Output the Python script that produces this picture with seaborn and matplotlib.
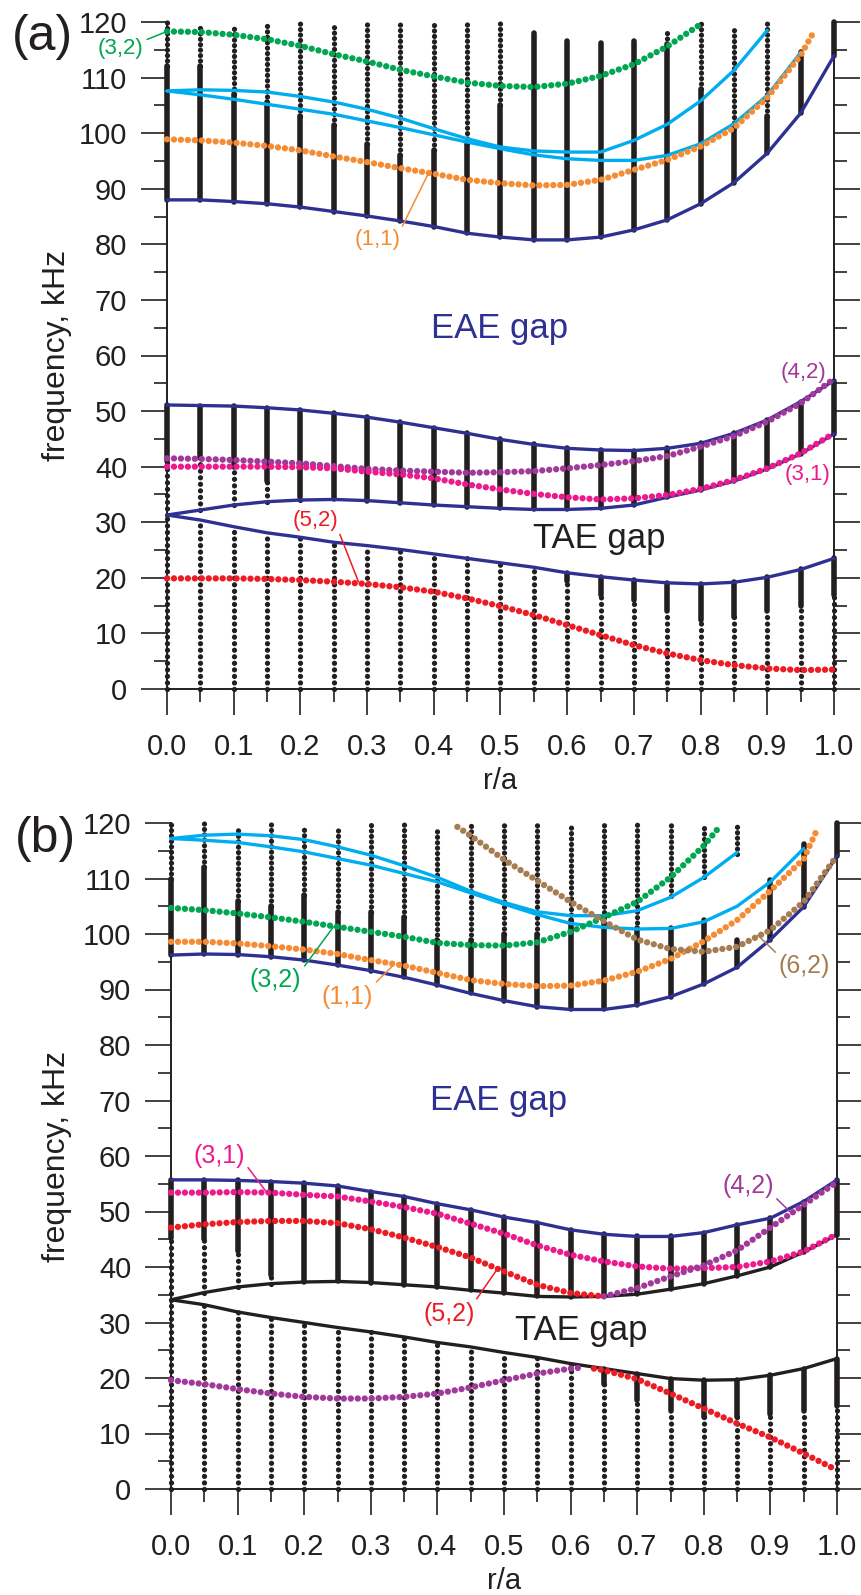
import numpy as np
import pandas as pd
import matplotlib
matplotlib.use("Agg")
import matplotlib.pyplot as plt
import seaborn as sns
from matplotlib.ticker import MultipleLocator, FormatStrFormatter

sns.set_style("ticks")
plt.rcParams["font.family"] = ["Liberation Sans", "DejaVu Sans"]
plt.rcParams["lines.scale_dashes"] = False

NAN = np.nan
# radial grid (r/a) of the continuum columns
R = [0.00, 0.05, 0.10, 0.15, 0.20, 0.25, 0.30, 0.35, 0.40, 0.45, 0.50,
     0.55, 0.60, 0.65, 0.70, 0.75, 0.80, 0.85, 0.90, 0.95, 1.00]
X_TICKS = [0.0, 0.1, 0.2, 0.3, 0.4, 0.5, 0.6, 0.7, 0.8, 0.9, 1.0]
Y_TICKS = [0, 10, 20, 30, 40, 50, 60, 70, 80, 90, 100, 110, 120]

# ---------------- panel (a) ----------------
A_TAE_LO = [31.3, 30.4, 29.2, 28.1, 27.3, 26.4, 25.8, 25.1, 24.3, 23.5, 22.7,
            21.9, 20.9, 20.2, 19.6, 19.1, 18.9, 19.2, 20.1, 21.5, 23.5]
A_TAE_HI = [31.3, 32.2, 33.1, 33.7, 34.0, 34.1, 33.9, 33.5, 33.1, 32.8, 32.5,
            32.3, 32.3, 32.5, 33.1, 34.5, 35.8, 37.4, 39.6, 42.3, 45.9]
A_EAE_LO = [51.1, 51.0, 50.9, 50.6, 50.2, 49.6, 48.9, 48.0, 47.0, 46.0, 44.9,
            44.0, 43.3, 43.0, 42.9, 43.3, 44.2, 46.0, 48.4, 51.7, 55.5]
A_EAE_HI = [88.0, 88.0, 87.7, 87.3, 86.7, 85.9, 85.1, 84.2, 83.2, 82.0, 81.3,
            80.8, 80.8, 81.3, 82.6, 84.4, 87.3, 91.1, 96.4, 103.6, 113.9]
A_LB1 = [107.6, 107.8, 107.7, 107.4, 106.6, 105.6, 104.3, 102.7, 100.8, 99.0,
         97.5, 96.8, 96.6, 96.6, 98.7, 101.6, 105.8, 111.3, 118.5]
A_LB2 = [107.6, 106.9, 106.1, 105.2, 104.3, 103.4, 102.2, 101.0, 99.7, 98.4,
         97.2, 96.1, 95.4, 95.1, 95.1, 96.0, 98.1, 101.7, 106.8, 114.5]
A_TOP = [120, 119.9, 119.4, 120, 120, 120, 120, 119.7, 120, 119.7, 120,
         118.0, 116.6, 116.2, 116.6, 118.7, 119.8, 119.5, 119.8, 114.6, 120]
A_UP_SOLID = [112, 112, 107, 105.6, 103, 101.5, 98, 96, 97, 98, 105,
              118, 116.6, 116.2, 116.6, 116, 108, 101, 103, 114.6, 120]
A_MID_DOT = [41.0, 41.5, 40.0, 37.5, 34.5] + [NAN] * 16
A_LOW_SOLID = [NAN] * 12 + [19.5, 17, 16, 14, 12.5, 13, 14, 15, 17]

A_GREEN_R = R[:17]
A_GREEN = [118.3, 118.2, 117.7, 116.9, 115.7, 114.2, 112.9, 111.4, 110.2, 109.1,
           108.5, 108.3, 108.9, 110.3, 112.4, 115.6, 119.6]
A_ORANGE_R = R[:20] + [0.97]
A_ORANGE = [98.9, 98.7, 98.3, 97.7, 96.9, 95.8, 94.8, 93.7, 92.7, 91.6, 91.0,
            90.6, 90.7, 91.6, 93.4, 95.2, 97.6, 100.9, 106.4, 114.0, 118.3]
A_PURPLE = [41.5, 41.4, 41.2, 40.9, 40.6, 40.1, 39.6, 39.3, 39.1, 38.9, 39.0,
            39.2, 39.7, 40.3, 41.0, 41.9, 43.6, 45.5, 48.1, 51.4, 55.8]
A_PINK = [40.0, 40.0, 40.0, 40.0, 39.9, 39.7, 39.1, 38.6, 37.9, 36.8, 35.9,
          35.1, 34.5, 34.1, 34.3, 34.9, 36.0, 37.6, 39.7, 42.4, 46.0]
A_RED = [19.9, 19.9, 19.9, 19.8, 19.6, 19.3, 18.9, 18.3, 17.5, 16.3, 14.9,
         13.3, 11.5, 9.7, 7.9, 6.4, 5.2, 4.3, 3.7, 3.4, 3.5]

# ---------------- panel (b) ----------------
B_TAE_LO = [34.1, 33.2, 31.9, 30.9, 30.0, 29.1, 28.3, 27.4, 26.4, 25.6, 24.6,
            23.7, 22.6, 21.7, 20.8, 19.9, 19.6, 19.7, 20.5, 21.7, 23.5]
B_TAE_HI = [34.1, 35.4, 36.4, 37.0, 37.3, 37.4, 37.2, 36.8, 36.4, 35.8, 35.3,
            34.7, 34.6, 34.7, 35.1, 36.0, 37.0, 38.4, 40.0, 42.7, 45.8]
B_EAE_LO = [55.7, 55.7, 55.6, 55.4, 55.1, 54.6, 53.6, 52.7, 51.4, 50.3, 49.0,
            48.0, 46.7, 45.9, 45.5, 45.5, 46.2, 47.6, 48.8, 51.8, 55.7]
B_EAE_HI = [96.2, 96.4, 96.3, 95.9, 95.3, 94.4, 93.4, 92.2, 90.8, 89.3, 88.0,
            86.9, 86.4, 86.4, 87.2, 88.7, 91.0, 94.0, 99.0, 104.9, 114.1]
B_LB1 = [117.2, 117.8, 118.0, 117.7, 117.0, 115.7, 114.2, 112.3, 110.2, 107.7,
         105.7, 104.0, 103.3, 103.3, 104.2, 106.6, 110.2, 114.7]
B_LB2 = [117.2, 116.9, 116.5, 115.7, 114.8, 113.6, 112.4, 110.9, 109.4, 107.4,
         105.4, 103.5, 101.9, 101.2, 100.9, 101.0, 102.2, 105.0, 109.4, 115.4]
B_TOP = [120, 120, 119.6, 120, 119.4, 119.4, 120, 119.8, 119.3, 120, 119.7,
         120, 120, 120, 120, 120, 120, 119.4, 109.7, 116.3, 120]
B_UP_SOLID = [110, 112, 106, 105, 107, 104, 104, 103, 99, 99, 100,
              100, 102.5, 102, 101, 101.1, 102.5, 99.0, 109.7, 116.3, 120]
B_GAP_LO = [NAN] * 15 + [101.1, 102.5, 99.0, NAN, NAN, NAN]
B_GAP_HI = [NAN] * 15 + [106.9, 110.3, 114.5, NAN, NAN, NAN]
B_MID_DOT = [45.3, 45.0, 42.8, 38.5] + [NAN] * 17
B_LOW_SOLID = [NAN] * 13 + [19, 16, 14, 13, 13, 13.5, 14, 15]

B_GREEN_R = R[:17] + [0.82]
B_GREEN = [104.7, 104.3, 103.7, 103.0, 102.2, 101.3, 100.4, 99.5, 98.4, 98.0,
           97.9, 98.5, 100.4, 103.0, 105.8, 110.2, 115.9, 118.8]
B_ORANGE_R = R[:20] + [0.97]
B_ORANGE = [98.6, 98.6, 98.3, 97.8, 97.2, 96.4, 95.3, 94.3, 93.0, 91.7, 91.0,
            90.6, 90.7, 91.6, 93.2, 95.5, 98.7, 102.5, 107.8, 113.5, 118.8]
B_BROWN_R = [0.43, 0.45, 0.50, 0.55, 0.60, 0.65, 0.70, 0.75, 0.80, 0.85, 0.90, 0.95, 1.00]
B_BROWN = [119.3, 117.7, 113.4, 109.6, 105.8, 102.3, 99.0, 97.3, 96.8, 97.7, 100.7, 105.8, 114.1]
B_PINK = [53.4, 53.4, 53.5, 53.4, 53.0, 52.7, 51.8, 50.8, 49.6, 47.8, 46.0,
          43.9, 42.2, 41.0, 40.1, 39.7, 39.8, 40.0, 41.0, 42.8, 45.9]
B_RED_UP_R = R[:14]
B_RED_UP = [47.1, 47.7, 48.1, 48.3, 48.3, 47.9, 46.8, 45.3, 43.6, 41.7, 39.2, 36.8, 35.3, 34.7]
B_PURPLE_UP_R = R[13:]
B_PURPLE_UP = [34.7, 36.2, 38.3, 40.3, 43.0, 47.1, 51.2, 55.3]
B_PURPLE_LO_R = R[:13] + [0.62]
B_PURPLE_LO = [19.6, 18.9, 18.0, 17.2, 16.6, 16.3, 16.3, 16.6, 17.2, 18.3, 19.6, 20.8, 21.7, 21.9]
B_RED_LO_R = [0.635] + R[13:]
B_RED_LO = [21.7, 21.4, 19.8, 17.2, 14.5, 11.8, 9.3, 6.4, 3.4]

# ---------------- styles ----------------
BLACK = "#231f20"
DBLUE = "#2e3192"
LBLUE = "#00aeef"
GREEN = "#00a651"
ORANGE = "#f58c33"
PURPLE = "#a1399b"
PINK = "#ec1b8d"
RED = "#ed1c24"
BROWN = "#a67c52"

DOT_CURVE = dict(lw=4.6, linestyle=(0, (0.01, 5.0)), dash_capstyle="round")


def vseg(ax, x, lo, hi, kind):
    if hi - lo <= 0.05:
        return
    if kind == "solid":
        ax.plot([x, x], [lo, hi], color=BLACK, lw=4.0, solid_capstyle="round",
                clip_on=False, zorder=3)
    else:
        gap = 4.7 if kind == "sparse" else 3.9
        ax.plot([x, x], [lo, hi], color=BLACK, lw=3.8, linestyle=(0, (0.01, gap)),
                dash_capstyle="round", clip_on=False, zorder=3)


def draw_columns(ax, top, up_solid, eae_hi, eae_lo, tae_hi, tae_lo, mid_dot,
                 low_solid, gap_lo=None, gap_hi=None):
    for i, x in enumerate(R):
        segs = []
        ls = low_solid[i]
        if np.isnan(ls):
            segs.append((0.0, tae_lo[i], "sparse"))
        else:
            segs.append((0.0, ls, "sparse"))
            segs.append((ls, tae_lo[i], "solid"))
        md = mid_dot[i]
        if np.isnan(md):
            segs.append((tae_hi[i], eae_lo[i], "solid"))
        else:
            segs.append((tae_hi[i], md, "sparse"))
            segs.append((md, eae_lo[i], "solid"))
        us = min(up_solid[i], top[i])
        segs.append((eae_hi[i], us, "solid"))
        segs.append((us, top[i], "dense"))
        glo = gap_lo[i] if gap_lo is not None else NAN
        ghi = gap_hi[i] if gap_hi is not None else NAN
        for lo, hi, kind in segs:
            if not np.isnan(glo):
                if hi <= glo or lo >= ghi:
                    vseg(ax, x, lo, hi, kind)
                else:
                    vseg(ax, x, lo, min(hi, glo), kind)
                    vseg(ax, x, max(lo, ghi), hi, kind)
            else:
                vseg(ax, x, lo, hi, kind)


def line(ax, xs, ys, color, lw=2.4, z=4):
    df = pd.DataFrame({"r": xs, "f": ys})
    sns.lineplot(data=df, x="r", y="f", ax=ax, color=color, lw=lw, sort=False,
                 estimator=None, legend=False, clip_on=False, zorder=z)


def dotted(ax, xs, ys, color):
    df = pd.DataFrame({"r": xs, "f": ys})
    sns.lineplot(data=df, x="r", y="f", ax=ax, color=color, sort=False,
                 estimator=None, legend=False, clip_on=False, zorder=5, **DOT_CURVE)


def label(ax, txt, color, xytext, xy=None, relpos=(1, 1), fs=16):
    if xy is None:
        ax.text(xytext[0], xytext[1], txt, color=color, fontsize=fs,
                ha="center", va="center", zorder=6)
    else:
        ax.annotate(txt, xy=xy, xytext=xytext, color=color, fontsize=fs,
                    ha="center", va="center", annotation_clip=False, zorder=6,
                    arrowprops=dict(arrowstyle="-", color=color, lw=1.1,
                                    shrinkA=0, shrinkB=0, relpos=relpos))


def style_axes(ax, ylab_x):
    ax.set_xlim(0, 1)
    ax.set_ylim(0, 120)
    ax.spines["top"].set_visible(False)
    for s in ("left", "right", "bottom"):
        ax.spines[s].set_linewidth(1.4)
        ax.spines[s].set_color(BLACK)
    ax.xaxis.set_minor_locator(MultipleLocator(0.05))
    ax.yaxis.set_minor_locator(MultipleLocator(5))
    ax.set_xticks(X_TICKS)
    ax.set_yticks(Y_TICKS)
    ax.xaxis.set_major_formatter(FormatStrFormatter("%.1f"))
    ax.yaxis.set_major_formatter(FormatStrFormatter("%d"))
    ax.tick_params(axis="both", which="major", length=18.7, width=1.2,
                   direction="out", color=BLACK, labelsize=21, labelcolor=BLACK)
    ax.tick_params(axis="both", which="minor", length=9.2, width=1.2,
                   direction="out", color=BLACK)
    ax.tick_params(axis="y", which="both", left=True, right=True,
                   labelleft=True, labelright=False, pad=10)
    ax.tick_params(axis="x", which="both", bottom=True, top=False, pad=13)
    ax.set_xlabel("r/a", fontsize=21, color=BLACK)
    ax.set_ylabel("frequency, kHz", fontsize=23, color=BLACK)
    ax.xaxis.set_label_coords(0.5, -0.117)
    ax.yaxis.set_label_coords(ylab_x, 0.5)
    ax.grid(False)


fig = plt.figure(figsize=(8.61, 15.95), dpi=100)
axa = fig.add_axes([167 / 861, 1 - 689 / 1595, 667 / 861, 667 / 1595])
axb = fig.add_axes([171 / 861, 1 - 1489 / 1595, 666 / 861, 666 / 1595])

# ---- panel (a) ----
ax = axa
draw_columns(ax, A_TOP, A_UP_SOLID, A_EAE_HI, A_EAE_LO, A_TAE_HI, A_TAE_LO,
             A_MID_DOT, A_LOW_SOLID)
line(ax, R, A_TAE_LO, DBLUE)
line(ax, R, A_TAE_HI, DBLUE)
line(ax, R, A_EAE_LO, DBLUE)
line(ax, R, A_EAE_HI, DBLUE)
line(ax, R[:len(A_LB1)], A_LB1, LBLUE)
line(ax, R[:len(A_LB2)], A_LB2, LBLUE)
dotted(ax, A_GREEN_R, A_GREEN, GREEN)
dotted(ax, A_ORANGE_R, A_ORANGE, ORANGE)
dotted(ax, R, A_PURPLE, PURPLE)
dotted(ax, R, A_PINK, PINK)
dotted(ax, R, A_RED, RED)
label(ax, "(3,2)", GREEN, (-0.069, 115.3), (0.0, 118.3), (1, 0.85))
label(ax, "(1,1)", ORANGE, (0.316, 80.8), (0.392, 92.8), (1, 1))
label(ax, "(5,2)", RED, (0.223, 30.3), (0.287, 19.3), (1, 0))
label(ax, "(4,2)", PURPLE, (0.954, 57.0))
label(ax, "(3,1)", PINK, (0.960, 38.6))
ax.text(0.499, 63.1, "EAE gap", color=DBLUE, fontsize=25, ha="center", va="baseline")
ax.text(0.648, 25.3, "TAE gap", color=BLACK, fontsize=25, ha="center", va="baseline")
style_axes(ax, -0.142)

# ---- panel (b) ----
ax = axb
draw_columns(ax, B_TOP, B_UP_SOLID, B_EAE_HI, B_EAE_LO, B_TAE_HI, B_TAE_LO,
             B_MID_DOT, B_LOW_SOLID, B_GAP_LO, B_GAP_HI)
line(ax, R, B_TAE_LO, BLACK)
line(ax, R, B_TAE_HI, BLACK)
line(ax, R, B_EAE_LO, DBLUE)
line(ax, R, B_EAE_HI, DBLUE)
line(ax, R[:len(B_LB1)], B_LB1, LBLUE)
line(ax, R[:len(B_LB2)], B_LB2, LBLUE)
dotted(ax, B_GREEN_R, B_GREEN, GREEN)
dotted(ax, B_ORANGE_R, B_ORANGE, ORANGE)
dotted(ax, B_BROWN_R, B_BROWN, BROWN)
dotted(ax, R, B_PINK, PINK)
dotted(ax, B_RED_UP_R, B_RED_UP, RED)
dotted(ax, B_PURPLE_UP_R, B_PURPLE_UP, PURPLE)
dotted(ax, B_PURPLE_LO_R, B_PURPLE_LO, PURPLE)
dotted(ax, B_RED_LO_R, B_RED_LO, RED)
label(ax, "(3,2)", GREEN, (0.157, 91.7), (0.244, 101.3), (1, 0.9), fs=18)
label(ax, "(1,1)", ORANGE, (0.265, 88.6), (0.334, 94.4), (0.95, 0.9), fs=18)
label(ax, "(6,2)", BROWN, (0.951, 94.2), (0.881, 99.8), (0, 0.95), fs=18)
label(ax, "(3,1)", PINK, (0.072, 60.0), (0.144, 53.4), (1, 0.2), fs=18)
label(ax, "(4,2)", PURPLE, (0.866, 54.6), (0.929, 50.0), (1, 0.1), fs=18)
label(ax, "(5,2)", RED, (0.417, 31.5), (0.492, 40.0), (1, 1), fs=18)
ax.text(0.492, 68.3, "EAE gap", color=DBLUE, fontsize=25, ha="center", va="baseline")
ax.text(0.616, 26.8, "TAE gap", color=BLACK, fontsize=25, ha="center", va="baseline")
style_axes(ax, -0.149)

fig.text(42 / 861, 1 - 37 / 1595, "(a)", fontsize=36, color=BLACK, ha="center", va="center")
fig.text(45 / 861, 1 - 839 / 1595, "(b)", fontsize=36, color=BLACK, ha="center", va="center")

fig.savefig("out.png", dpi=100)
